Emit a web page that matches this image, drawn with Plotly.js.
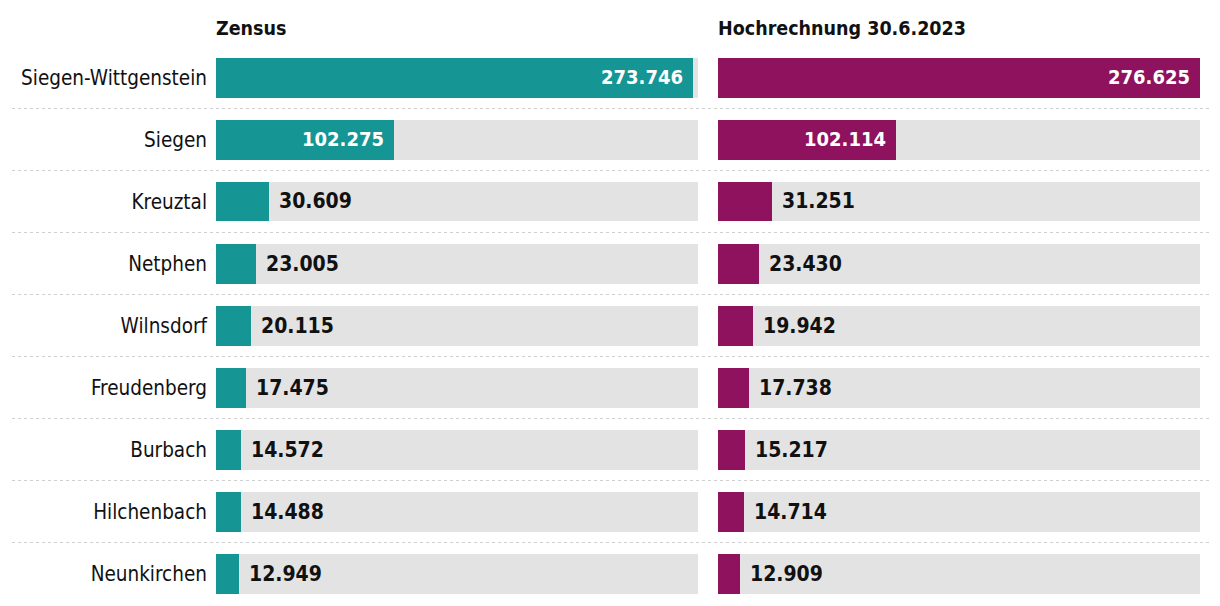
<!DOCTYPE html>
<html>
<head>
<meta charset="utf-8">
<script src="https://cdn.plot.ly/plotly-3.0.1.min.js"></script>
<style>html,body{margin:0;padding:0;background:#fff;}#chart{width:1220px;height:606px;}</style>
</head>
<body>
<div id="chart"></div>
<script>
const categories = ["Siegen-Wittgenstein","Siegen","Kreuztal","Netphen","Wilnsdorf","Freudenberg","Burbach","Hilchenbach","Neunkirchen"];
const zensus = [273746,102275,30609,23005,20115,17475,14572,14488,12949];
const hochrechnung = [276625,102114,31251,23430,19942,17738,15217,14714,12909];
const panelTitles = ["Zensus","Hochrechnung 30.6.2023"];

const FONT = "'DejaVu Sans Condensed','Liberation Sans Narrow','Arial Narrow',sans-serif";
const TEAL = "#159695", PURPLE = "#8e125e", GRAY = "#e3e3e3";
const xMax = Math.max(...zensus, ...hochrechnung);
const insideThreshold = 60000;

function fmt(v){ return String(v).replace(/\B(?=(\d{3})+(?!\d))/g, "."); }

const bgVals = categories.map(() => xMax);
const traces = [];
const series = [[zensus, TEAL, 'x', 'y'], [hochrechnung, PURPLE, 'x2', 'y2']];
series.forEach(([vals, col, xa, ya]) => {
  traces.push({type:'bar', orientation:'h', y:categories, x:bgVals, xaxis:xa, yaxis:ya,
    marker:{color:GRAY}, width:0.645, hoverinfo:'skip', showlegend:false});
  traces.push({type:'bar', orientation:'h', y:categories, x:vals, xaxis:xa, yaxis:ya,
    marker:{color:col}, width:0.645, showlegend:false});
});

const annotations = [];
series.forEach(([vals, col, xa, ya]) => {
  vals.forEach((v, i) => {
    const inside = v > insideThreshold;
    annotations.push({x:v, y:categories[i], xref:xa, yref:ya, text:'<b>'+fmt(v)+'</b>',
      showarrow:false, xanchor: inside ? 'right' : 'left', xshift: inside ? -8 : 8,
      font:{family:FONT, size: inside ? 20 : 21, color: inside ? '#ffffff' : '#111111'}});
  });
});
const domL = [216/1220, 698/1220], domR = [718/1220, 1200/1220];
[[domL, panelTitles[0]], [domR, panelTitles[1]]].forEach(([d, t]) => {
  annotations.push({x:d[0], y:1-28/606, xref:'paper', yref:'paper', xanchor:'left', yanchor:'middle',
    xshift:-2, text:'<b>'+t+'</b>', showarrow:false, font:{family:FONT, size:19.5, color:'#111'}});
});

const shapes = [];
for (let i = 0; i < categories.length - 1; i++) {
  shapes.push({type:'line', xref:'paper', yref:'y', x0:12/1220, x1:1210/1220, y0:i+0.5, y1:i+0.5,
    line:{color:'#d0d0d0', width:1.2, dash:'dot'}, layer:'below'});
}

const yDom = [1.5/606, 559.5/606];
const layout = {
  width:1220, height:606, margin:{l:0, r:0, t:0, b:0},
  paper_bgcolor:'#fff', plot_bgcolor:'rgba(0,0,0,0)',
  barmode:'overlay', bargap:0,
  font:{family:FONT, size:20.5, color:'#111'},
  xaxis:{domain:domL, range:[0, xMax], visible:false, fixedrange:true},
  xaxis2:{domain:domR, range:[0, xMax], visible:false, fixedrange:true},
  yaxis:{domain:yDom, anchor:'x', type:'category', range:[8.5,-0.5], showgrid:false, zeroline:false,
    showline:false, ticks:'', ticklabelstandoff:8, tickfont:{family:FONT, size:20.5, color:'#111'}},
  yaxis2:{domain:yDom, anchor:'x2', type:'category', range:[8.5,-0.5], showgrid:false, zeroline:false,
    showline:false, showticklabels:false, ticks:''},
  annotations: annotations, shapes: shapes, showlegend:false
};
Plotly.newPlot('chart', traces, layout, {displayModeBar:false, staticPlot:true});
</script>
</body>
</html>
